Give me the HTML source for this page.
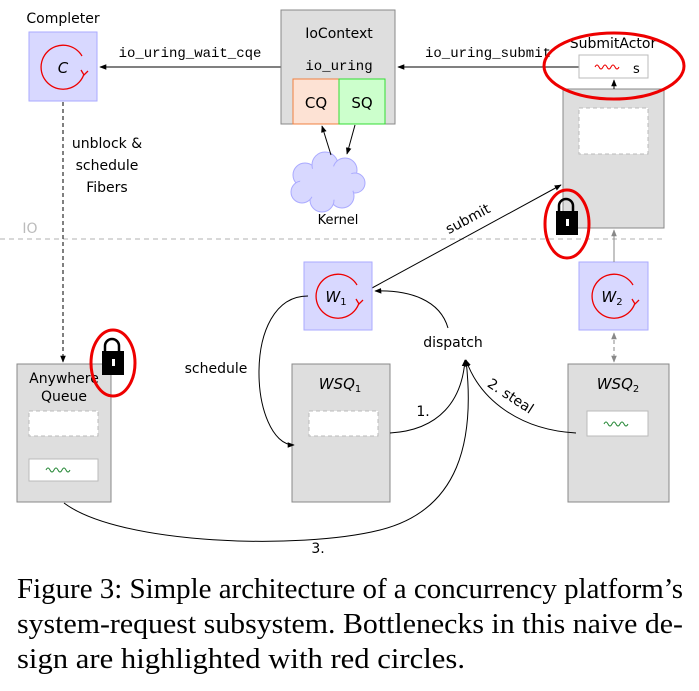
<!DOCTYPE html>
<html><head><meta charset="utf-8"><style>
html,body{margin:0;padding:0;background:#fff;width:699px;height:691px;overflow:hidden}
svg{display:block}
.s{font-family:"DejaVu Sans","Liberation Sans",sans-serif;font-size:14px;fill:#000}
.m{font-family:"Liberation Mono",monospace;font-size:14px;fill:#000}
.c{font-family:"Liberation Serif",serif;font-size:28px;fill:#000}
</style></head><body>
<svg width="699" height="691" viewBox="0 0 699 691" xmlns="http://www.w3.org/2000/svg">
<defs>
<marker id="a" viewBox="0 0 10 10" refX="9" refY="5" markerWidth="7" markerHeight="7" orient="auto-start-reverse"><path d="M0,1 L10,5 L0,9 z" fill="#000"/></marker>
<marker id="g" viewBox="0 0 10 10" refX="9" refY="5" markerWidth="7" markerHeight="7" orient="auto-start-reverse"><path d="M0,1 L10,5 L0,9 z" fill="#888"/></marker>
<g id="loop">
<path d="M19,-11 A22,22 0 1 0 21,7" fill="none" stroke="#e00" stroke-width="1.3"/>
<path d="M18,3 l3,5 l4,-4" fill="none" stroke="#e00" stroke-width="1.3"/>
</g>
</defs>
<line x1="0" y1="239" x2="665" y2="239" stroke="#ccc" stroke-width="1.5" stroke-dasharray="5,4"/>
<text x="30" y="233" class="s" style="fill:#bbb" text-anchor="middle">IO</text>

<text x="63" y="23" class="s" text-anchor="middle">Completer</text>
<rect x="29" y="32" width="68" height="69" fill="#d8d8ff" stroke="#aaaaff"/>
<use href="#loop" x="63" y="67"/>
<text x="63" y="73" class="s" font-style="italic" text-anchor="middle" style="font-size:15px">C</text>

<line x1="281" y1="67" x2="100" y2="67" stroke="#000" marker-end="url(#a)"/>
<text x="190" y="57" class="m" text-anchor="middle">io_uring_wait_cqe</text>

<rect x="281" y="10" width="114" height="114" fill="#dedede" stroke="#888"/>
<text x="339" y="38" class="s" text-anchor="middle">IoContext</text>
<text x="339" y="70" class="m" text-anchor="middle">io_uring</text>
<rect x="293" y="79" width="46" height="45" fill="#fde2d4" stroke="#f08040"/>
<rect x="339" y="79" width="46" height="45" fill="#ccffcc" stroke="#33dd33"/>
<text x="316" y="108" class="s" text-anchor="middle" style="font-size:15px">CQ</text>
<text x="362" y="108" class="s" text-anchor="middle" style="font-size:15px">SQ</text>
<g fill="#d8d8ff" stroke="#aaaaff">
<circle cx="305" cy="175" r="12"/><circle cx="325" cy="165" r="13"/><circle cx="345" cy="170" r="12"/><circle cx="355" cy="183" r="10"/>
<circle cx="342" cy="196" r="12"/><circle cx="322" cy="200" r="12"/><circle cx="302" cy="192" r="11"/>
</g>
<ellipse cx="328" cy="183" rx="28" ry="17" fill="#d8d8ff"/>
<text x="338" y="224" class="s" text-anchor="middle" style="font-size:13px">Kernel</text>
<line x1="331" y1="155" x2="322" y2="126" stroke="#000" marker-end="url(#a)"/>
<line x1="355" y1="125" x2="347" y2="154" stroke="#000" marker-end="url(#a)"/>

<line x1="579" y1="67" x2="398" y2="67" stroke="#000" marker-end="url(#a)"/>
<text x="488" y="57" class="m" text-anchor="middle">io_uring_submit</text>

<text x="613" y="48" class="s" text-anchor="middle">SubmitActor</text>
<rect x="579" y="55" width="69" height="23" fill="#fff" stroke="#bbb"/>
<path d="M595,67 q2,-4 4,0 t4,0 t4,0 t4,0 t4,0 t4,0" fill="none" stroke="#e00"/>
<text x="633" y="73" class="s" style="font-size:13px">s</text>
<rect x="563" y="89" width="101" height="139" fill="#dedede" stroke="#888"/>
<rect x="579" y="108" width="69" height="46" fill="#fff" stroke="#bbb" stroke-dasharray="4,3"/>
<line x1="614" y1="89" x2="614" y2="80" stroke="#000" marker-end="url(#a)"/>
<ellipse cx="614" cy="66" rx="70" ry="33" fill="none" stroke="#e00" stroke-width="3"/>
<path d="M559,212 v-6 a7,7 0 0 1 14,0 v6" fill="none" stroke="#000" stroke-width="2.5"/>
<rect x="556" y="211" width="22" height="24" fill="#000"/><rect x="566" y="219" width="3" height="7" fill="#fff"/>
<ellipse cx="567" cy="224" rx="22" ry="34" fill="none" stroke="#e00" stroke-width="3"/>

<line x1="372" y1="288" x2="561" y2="185" stroke="#000" marker-end="url(#a)"/>
<text x="470" y="223" class="s" text-anchor="middle" transform="rotate(-28 470 223)">submit</text>

<rect x="304" y="262" width="68" height="68" fill="#d8d8ff" stroke="#aaaaff"/>
<use href="#loop" x="338" y="296"/>
<text x="336" y="302" class="s" font-style="italic" text-anchor="middle" style="font-size:15px">W<tspan font-size="10" dy="3" font-style="normal">1</tspan></text>
<rect x="579" y="262" width="69" height="68" fill="#d8d8ff" stroke="#aaaaff"/>
<use href="#loop" x="614" y="296"/>
<text x="612" y="302" class="s" font-style="italic" text-anchor="middle" style="font-size:15px">W<tspan font-size="10" dy="3" font-style="normal">2</tspan></text>
<line x1="614" y1="262" x2="614" y2="230" stroke="#888" marker-end="url(#g)"/>
<line x1="614" y1="333" x2="614" y2="362" stroke="#888" stroke-dasharray="4,3" marker-start="url(#g)" marker-end="url(#g)"/>

<line x1="63" y1="102" x2="63" y2="362" stroke="#000" stroke-dasharray="4,3" marker-end="url(#a)"/>
<text x="107" y="148" class="s" text-anchor="middle">unblock &amp;</text>
<text x="107" y="170" class="s" text-anchor="middle">schedule</text>
<text x="107" y="192" class="s" text-anchor="middle">Fibers</text>
<rect x="17" y="364" width="94" height="138" fill="#dedede" stroke="#888"/>
<text x="64" y="383" class="s" text-anchor="middle">Anywhere</text>
<text x="64" y="401" class="s" text-anchor="middle">Queue</text>
<rect x="29" y="411" width="69" height="25" fill="#fff" stroke="#bbb" stroke-dasharray="4,3"/>
<rect x="29" y="459" width="69" height="22" fill="#fff" stroke="#bbb"/>
<path d="M46,470 q2,-4 4,0 t4,0 t4,0 t4,0 t4,0 t4,0" fill="none" stroke="#2a8a3a"/>
<path d="M105,352 v-6 a7,7 0 0 1 14,0 v6" fill="none" stroke="#000" stroke-width="2.5"/>
<rect x="102" y="351" width="22" height="24" fill="#000"/><rect x="112" y="359" width="3" height="7" fill="#fff"/>
<ellipse cx="113" cy="363" rx="22" ry="33" fill="none" stroke="#e00" stroke-width="3"/>

<rect x="292" y="364" width="98" height="138" fill="#dedede" stroke="#888"/>
<text x="340" y="389" class="s" font-style="italic" text-anchor="middle" style="font-size:15px">WSQ<tspan font-size="10" dy="3" font-style="normal">1</tspan></text>
<rect x="309" y="411" width="69" height="25" fill="#fff" stroke="#bbb" stroke-dasharray="4,3"/>
<rect x="568" y="364" width="101" height="138" fill="#dedede" stroke="#888"/>
<text x="618" y="389" class="s" font-style="italic" text-anchor="middle" style="font-size:15px">WSQ<tspan font-size="10" dy="3" font-style="normal">2</tspan></text>
<rect x="587" y="411" width="61" height="25" fill="#fff" stroke="#bbb"/>
<path d="M604,424 q2,-4 4,0 t4,0 t4,0 t4,0 t4,0 t4,0" fill="none" stroke="#2a8a3a"/>

<path d="M308,296 C240,296 250,445 294,445" fill="none" stroke="#000" marker-end="url(#a)"/>
<text x="216" y="373" class="s" text-anchor="middle">schedule</text>
<text x="453" y="347" class="s" text-anchor="middle">dispatch</text>
<path d="M448,328 C440,300 410,290 375,291" fill="none" stroke="#000" marker-end="url(#a)"/>
<path d="M390,433 C440,430 462,400 465,360" fill="none" stroke="#000" marker-end="url(#a)"/>
<text x="423" y="416" class="s" text-anchor="middle">1.</text>
<path d="M576,433 C520,430 480,400 466,360" fill="none" stroke="#000" marker-end="url(#a)"/>
<text x="508" y="400" class="s" text-anchor="middle" transform="rotate(33 508 400)">2. steal</text>
<path d="M64,503 C120,545 300,550 380,530 C460,510 475,440 466,360" fill="none" stroke="#000" marker-end="url(#a)"/>
<text x="318" y="553" class="s" text-anchor="middle">3.</text>

<text x="17" y="598" class="c" textLength="666" lengthAdjust="spacingAndGlyphs">Figure 3: Simple architecture of a concurrency platform’s</text>
<text x="17" y="633" class="c" textLength="666" lengthAdjust="spacingAndGlyphs">system-request subsystem. Bottlenecks in this naive de-</text>
<text x="17" y="668" class="c" textLength="448" lengthAdjust="spacingAndGlyphs">sign are highlighted with red circles.</text>
</svg>
</body></html>
